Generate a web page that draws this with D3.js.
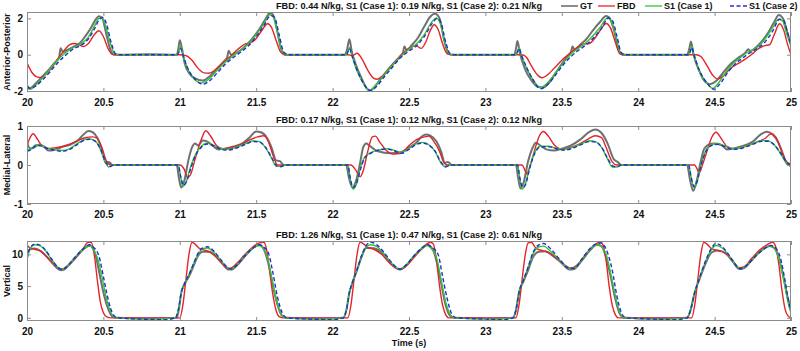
<!DOCTYPE html>
<html>
<head>
<meta charset="utf-8">
<script src="https://cdn.jsdelivr.net/npm/d3@7"></script>
<style>
  body { margin: 0; background: #fff; }
  svg { display: block; font-family: "Liberation Sans", Arial, sans-serif; }
</style>
</head>
<body>
<div id="chart"></div>
<script>
// time ticks shared by the three panels
const xTicks = [20, 20.5, 21, 21.5, 22, 22.5, 23, 23.5, 24, 24.5, 25];

const seriesNames = ['GT', 'FBD', 'S1 (Case 1)', 'S1 (Case 2)'];

const titles = [
  'FBD: 0.44 N/kg, S1 (Case 1): 0.19 N/kg, S1 (Case 2): 0.21 N/kg',
  'FBD: 0.17 N/kg, S1 (Case 1): 0.12 N/kg, S1 (Case 2): 0.12 N/kg',
  'FBD: 1.26 N/kg, S1 (Case 1): 0.47 N/kg, S1 (Case 2): 0.61 N/kg'
];
const yLabels = ['Anterior-Posterior', 'Medial-Lateral', 'Vertical'];
const yTicks = [[-2, 0, 2], [-1, 0, 1], [0, 5, 10]];

// Anterior-Posterior [time, N/kg]
const apGT = [[20.00,-1.70],[20.02,-1.85],[20.06,-1.55],[20.10,-1.20],[20.14,-0.85],[20.18,-0.45],[20.21,-0.15],[20.22,0.35],[20.235,0.15],[20.26,0.25],[20.30,0.42],[20.34,0.60],[20.38,1.00],[20.42,1.50],[20.45,1.95],[20.47,2.12],[20.49,2.05],[20.52,1.10],[20.545,0.30],[20.57,0.00],[20.60,0.00],[20.80,0.02],[20.98,0.00],[20.99,0.30],[21.00,0.80],[21.015,0.30],[21.03,-0.40],[21.06,-1.00],[21.10,-1.30],[21.15,-1.42],[21.20,-1.15],[21.25,-0.70],[21.29,-0.35],[21.31,-0.15],[21.32,0.22],[21.335,0.00],[21.37,0.10],[21.42,0.40],[21.47,0.85],[21.52,1.40],[21.56,1.95],[21.59,2.30],[21.61,2.20],[21.64,1.20],[21.66,0.40],[21.69,0.00],[21.80,0.00],[22.08,0.00],[22.095,0.30],[22.11,0.85],[22.125,0.20],[22.15,-0.50],[22.19,-1.30],[22.23,-1.90],[22.25,-1.95],[22.29,-1.60],[22.34,-1.05],[22.39,-0.55],[22.44,-0.10],[22.46,0.10],[22.47,0.45],[22.485,0.25],[22.52,0.55],[22.56,0.95],[22.60,1.55],[22.64,2.10],[22.67,2.25],[22.70,2.00],[22.73,0.80],[22.76,0.05],[22.79,0.00],[23.00,0.00],[23.19,0.00],[23.20,0.35],[23.21,0.75],[23.225,0.10],[23.26,-0.80],[23.30,-1.40],[23.34,-1.75],[23.38,-1.80],[23.42,-1.50],[23.46,-1.00],[23.50,-0.50],[23.54,-0.05],[23.56,0.15],[23.57,0.45],[23.585,0.25],[23.62,0.55],[23.66,0.85],[23.70,1.30],[23.75,1.80],[23.79,2.13],[23.81,2.05],[23.84,1.40],[23.87,0.30],[23.90,0.00],[24.10,0.00],[24.32,0.00],[24.335,0.35],[24.345,0.73],[24.36,0.10],[24.40,-0.90],[24.44,-1.50],[24.47,-1.62],[24.51,-1.45],[24.55,-1.05],[24.60,-0.55],[24.65,-0.20],[24.70,0.10],[24.72,0.30],[24.735,0.20],[24.77,0.40],[24.81,0.75],[24.85,1.20],[24.89,1.80],[24.92,2.18],[24.95,1.95],[24.98,1.10],[25.00,0.60]];
const apFBD = [[20.00,-0.45],[20.03,-0.95],[20.06,-1.20],[20.09,-1.25],[20.12,-1.10],[20.16,-0.75],[20.20,-0.25],[20.24,0.20],[20.28,0.55],[20.31,0.62],[20.34,0.55],[20.37,0.45],[20.40,0.60],[20.44,1.10],[20.47,1.32],[20.50,1.00],[20.53,0.35],[20.56,0.02],[20.60,0.00],[21.00,0.00],[21.04,-0.05],[21.08,-0.30],[21.12,-0.75],[21.16,-1.00],[21.19,-1.02],[21.23,-0.85],[21.28,-0.45],[21.33,-0.10],[21.38,0.30],[21.43,0.60],[21.46,0.65],[21.49,0.80],[21.53,1.25],[21.575,1.70],[21.60,1.50],[21.63,0.80],[21.66,0.15],[21.69,0.00],[22.10,0.00],[22.13,-0.05],[22.16,0.08],[22.19,-0.20],[22.23,-0.85],[22.27,-1.30],[22.29,-1.35],[22.33,-1.15],[22.38,-0.70],[22.43,-0.20],[22.47,0.15],[22.51,0.40],[22.545,0.50],[22.58,0.35],[22.61,0.70],[22.64,1.35],[22.665,1.65],[22.69,1.40],[22.72,0.60],[22.75,0.05],[22.78,0.00],[23.24,0.00],[23.27,-0.15],[23.30,-0.60],[23.34,-1.10],[23.37,-1.27],[23.40,-1.15],[23.45,-0.75],[23.50,-0.30],[23.55,0.05],[23.60,0.40],[23.64,0.58],[23.68,0.62],[23.72,0.95],[23.76,1.45],[23.79,1.72],[23.82,1.45],[23.85,0.70],[23.88,0.05],[23.91,0.00],[24.38,0.00],[24.41,-0.10],[24.45,-0.60],[24.49,-1.15],[24.52,-1.33],[24.56,-1.15],[24.60,-0.78],[24.64,-0.55],[24.69,-0.30],[24.74,0.00],[24.79,0.35],[24.83,0.50],[24.86,0.55],[24.89,1.10],[24.925,1.70],[24.95,1.40],[24.98,0.50],[25.00,0.00]];
const apS1c1 = [[20.00,-1.80],[20.02,-1.90],[20.06,-1.65],[20.10,-1.30],[20.15,-0.80],[20.20,-0.30],[20.25,0.10],[20.30,0.38],[20.35,0.58],[20.40,0.95],[20.44,1.55],[20.47,2.00],[20.49,2.05],[20.51,1.70],[20.54,0.80],[20.57,0.10],[20.60,0.00],[20.98,0.00],[20.995,0.20],[21.005,0.45],[21.02,0.00],[21.05,-0.75],[21.09,-1.30],[21.14,-1.55],[21.19,-1.35],[21.24,-0.90],[21.30,-0.40],[21.35,-0.05],[21.40,0.25],[21.45,0.60],[21.50,1.10],[21.55,1.70],[21.59,2.20],[21.61,2.10],[21.64,1.20],[21.67,0.20],[21.70,0.00],[22.09,0.00],[22.10,0.20],[22.11,0.40],[22.125,0.00],[22.16,-0.90],[22.20,-1.55],[22.24,-1.97],[22.28,-1.70],[22.33,-1.20],[22.38,-0.70],[22.44,-0.15],[22.50,0.30],[22.55,0.60],[22.60,1.10],[22.645,1.75],[22.68,2.02],[22.705,1.70],[22.735,0.70],[22.765,0.05],[22.80,0.00],[23.20,0.00],[23.21,0.20],[23.22,0.40],[23.235,0.00],[23.27,-0.75],[23.31,-1.35],[23.36,-1.82],[23.40,-1.60],[23.45,-1.10],[23.50,-0.55],[23.55,-0.05],[23.60,0.30],[23.65,0.60],[23.70,1.00],[23.75,1.50],[23.80,2.02],[23.825,1.85],[23.855,1.00],[23.885,0.10],[23.92,0.00],[24.33,0.00],[24.34,0.20],[24.35,0.45],[24.365,0.00],[24.40,-0.90],[24.45,-1.55],[24.49,-1.85],[24.53,-1.50],[24.57,-1.00],[24.62,-0.50],[24.67,-0.15],[24.72,0.15],[24.77,0.35],[24.82,0.75],[24.87,1.35],[24.92,1.95],[24.945,1.85],[24.97,1.20],[25.00,0.45]];
const apS1c2 = [[20.00,-1.75],[20.02,-1.85],[20.06,-1.70],[20.10,-1.40],[20.15,-0.95],[20.20,-0.45],[20.25,-0.05],[20.30,0.30],[20.35,0.50],[20.40,0.85],[20.44,1.40],[20.475,1.95],[20.495,2.05],[20.52,1.70],[20.55,0.70],[20.58,0.05],[20.61,0.00],[20.98,0.00],[20.995,0.15],[21.005,0.35],[21.02,0.00],[21.05,-0.70],[21.10,-1.35],[21.15,-1.62],[21.20,-1.40],[21.25,-0.95],[21.30,-0.50],[21.35,-0.15],[21.40,0.15],[21.45,0.50],[21.50,1.00],[21.55,1.60],[21.595,2.15],[21.62,2.05],[21.65,1.10],[21.68,0.15],[21.71,0.00],[22.09,0.00],[22.10,0.15],[22.11,0.35],[22.125,0.00],[22.16,-0.85],[22.20,-1.55],[22.245,-1.97],[22.29,-1.72],[22.34,-1.20],[22.39,-0.70],[22.44,-0.20],[22.50,0.20],[22.55,0.50],[22.60,1.00],[22.65,1.70],[22.685,2.00],[22.71,1.75],[22.74,0.70],[22.77,0.05],[22.80,0.00],[23.20,0.00],[23.21,0.15],[23.22,0.35],[23.235,0.00],[23.27,-0.70],[23.31,-1.35],[23.36,-1.88],[23.41,-1.62],[23.46,-1.10],[23.51,-0.55],[23.56,-0.10],[23.61,0.25],[23.66,0.55],[23.71,0.95],[23.76,1.45],[23.805,2.02],[23.83,1.90],[23.86,1.05],[23.89,0.10],[23.92,0.00],[24.33,0.00],[24.34,0.15],[24.35,0.40],[24.365,0.00],[24.40,-0.85],[24.45,-1.55],[24.495,-1.90],[24.54,-1.55],[24.58,-1.05],[24.63,-0.55],[24.68,-0.20],[24.73,0.10],[24.78,0.35],[24.83,0.70],[24.88,1.30],[24.925,1.95],[24.95,1.90],[24.975,1.30],[25.00,0.50]];

// Medial-Lateral
const mlGT = [[20.00,0.58],[20.02,0.42],[20.05,0.46],[20.08,0.52],[20.11,0.48],[20.14,0.37],[20.17,0.38],[20.22,0.45],[20.28,0.52],[20.33,0.62],[20.37,0.78],[20.40,0.87],[20.43,0.84],[20.46,0.70],[20.49,0.40],[20.515,0.05],[20.535,0.08],[20.56,0.00],[20.98,0.00],[20.995,-0.35],[21.01,-0.58],[21.03,-0.40],[21.055,0.10],[21.08,0.45],[21.10,0.55],[21.12,0.50],[21.15,0.63],[21.18,0.60],[21.22,0.48],[21.25,0.40],[21.30,0.42],[21.36,0.48],[21.42,0.58],[21.46,0.72],[21.50,0.86],[21.53,0.84],[21.57,0.70],[21.60,0.45],[21.63,0.12],[21.655,0.10],[21.68,0.00],[22.09,0.00],[22.105,-0.30],[22.13,-0.58],[22.15,-0.45],[22.18,0.05],[22.20,0.45],[22.22,0.55],[22.24,0.50],[22.28,0.38],[22.33,0.32],[22.38,0.30],[22.44,0.32],[22.50,0.45],[22.55,0.58],[22.58,0.72],[22.61,0.78],[22.64,0.75],[22.68,0.60],[22.71,0.35],[22.735,0.05],[22.755,0.08],[22.78,0.00],[23.20,0.00],[23.215,-0.35],[23.23,-0.60],[23.25,-0.45],[23.28,0.10],[23.31,0.45],[23.33,0.57],[23.36,0.50],[23.40,0.40],[23.45,0.37],[23.50,0.42],[23.56,0.50],[23.62,0.65],[23.68,0.85],[23.72,0.91],[23.76,0.82],[23.80,0.55],[23.84,0.15],[23.865,0.08],[23.89,0.00],[24.32,0.00],[24.34,-0.40],[24.36,-0.66],[24.38,-0.45],[24.41,0.10],[24.43,0.40],[24.46,0.52],[24.50,0.55],[24.55,0.50],[24.58,0.40],[24.62,0.42],[24.68,0.48],[24.75,0.60],[24.80,0.78],[24.84,0.85],[24.88,0.78],[24.92,0.55],[24.95,0.25],[24.975,0.02],[25.00,0.05]];
const mlFBD = [[20.00,0.50],[20.02,0.70],[20.04,0.80],[20.07,0.65],[20.10,0.48],[20.14,0.42],[20.20,0.45],[20.27,0.52],[20.33,0.62],[20.38,0.70],[20.43,0.72],[20.46,0.68],[20.49,0.45],[20.52,0.10],[20.55,0.00],[21.00,0.00],[21.03,-0.12],[21.05,-0.32],[21.07,-0.25],[21.10,0.15],[21.14,0.65],[21.17,0.88],[21.20,0.75],[21.24,0.50],[21.28,0.42],[21.34,0.45],[21.40,0.52],[21.46,0.65],[21.51,0.72],[21.55,0.75],[21.58,0.60],[21.61,0.25],[21.64,0.00],[22.12,0.00],[22.15,-0.12],[22.18,-0.30],[22.20,-0.15],[22.23,0.35],[22.26,0.72],[22.28,0.74],[22.31,0.58],[22.35,0.38],[22.40,0.28],[22.45,0.30],[22.50,0.50],[22.55,0.65],[22.60,0.72],[22.63,0.74],[22.66,0.62],[22.70,0.35],[22.73,0.05],[22.75,0.00],[23.24,0.00],[23.255,-0.10],[23.27,-0.23],[23.29,-0.05],[23.32,0.35],[23.35,0.72],[23.38,0.86],[23.41,0.75],[23.45,0.52],[23.50,0.40],[23.56,0.45],[23.62,0.55],[23.67,0.66],[23.72,0.75],[23.76,0.70],[23.79,0.45],[23.83,0.08],[23.86,0.00],[24.37,0.00],[24.385,-0.10],[24.40,-0.20],[24.42,0.00],[24.45,0.35],[24.48,0.70],[24.51,0.84],[24.54,0.70],[24.58,0.48],[24.63,0.42],[24.70,0.48],[24.77,0.58],[24.83,0.68],[24.87,0.80],[24.90,0.72],[24.93,0.45],[24.96,0.15],[25.00,0.00]];
const mlS1c1 = [[20.00,0.38],[20.03,0.42],[20.06,0.52],[20.09,0.50],[20.13,0.44],[20.18,0.40],[20.23,0.37],[20.28,0.42],[20.33,0.55],[20.38,0.66],[20.41,0.67],[20.45,0.60],[20.48,0.40],[20.51,0.10],[20.535,-0.05],[20.56,0.00],[20.99,0.00],[21.005,-0.30],[21.02,-0.55],[21.04,-0.45],[21.07,-0.05],[21.10,0.25],[21.14,0.48],[21.18,0.56],[21.22,0.50],[21.26,0.43],[21.31,0.40],[21.37,0.45],[21.43,0.55],[21.48,0.62],[21.52,0.60],[21.56,0.45],[21.60,0.18],[21.63,-0.03],[21.66,-0.04],[21.69,0.00],[22.10,0.00],[22.115,-0.35],[22.135,-0.62],[22.155,-0.50],[22.18,-0.10],[22.21,0.20],[22.25,0.32],[22.30,0.38],[22.35,0.42],[22.40,0.38],[22.45,0.32],[22.50,0.42],[22.55,0.55],[22.59,0.58],[22.63,0.52],[22.67,0.35],[22.71,0.05],[22.74,-0.05],[22.77,0.00],[23.21,0.00],[23.225,-0.35],[23.24,-0.62],[23.26,-0.50],[23.29,-0.05],[23.32,0.30],[23.36,0.48],[23.41,0.48],[23.47,0.42],[23.52,0.40],[23.57,0.45],[23.63,0.55],[23.68,0.62],[23.72,0.60],[23.76,0.45],[23.80,0.15],[23.83,-0.05],[23.86,-0.05],[23.89,0.00],[24.33,0.00],[24.345,-0.30],[24.365,-0.58],[24.385,-0.45],[24.41,0.00],[24.44,0.35],[24.48,0.52],[24.52,0.55],[24.57,0.48],[24.62,0.42],[24.68,0.45],[24.75,0.55],[24.81,0.63],[24.85,0.62],[24.89,0.52],[24.93,0.30],[24.97,0.05],[25.00,-0.05]];
const mlS1c2 = [[20.00,0.35],[20.03,0.40],[20.06,0.50],[20.09,0.49],[20.13,0.43],[20.18,0.38],[20.23,0.35],[20.28,0.40],[20.33,0.53],[20.38,0.64],[20.41,0.66],[20.45,0.60],[20.48,0.42],[20.51,0.12],[20.54,-0.04],[20.57,0.00],[20.99,0.00],[21.005,-0.28],[21.025,-0.52],[21.045,-0.42],[21.075,-0.05],[21.10,0.22],[21.14,0.45],[21.18,0.54],[21.22,0.50],[21.26,0.42],[21.31,0.38],[21.37,0.43],[21.43,0.53],[21.48,0.60],[21.52,0.59],[21.56,0.46],[21.60,0.20],[21.635,-0.02],[21.66,-0.04],[21.69,0.00],[22.10,0.00],[22.115,-0.32],[22.135,-0.58],[22.155,-0.48],[22.185,-0.08],[22.21,0.18],[22.25,0.30],[22.30,0.38],[22.35,0.41],[22.40,0.37],[22.45,0.30],[22.50,0.40],[22.55,0.53],[22.59,0.56],[22.63,0.51],[22.67,0.36],[22.71,0.07],[22.74,-0.04],[22.77,0.00],[23.21,0.00],[23.225,-0.32],[23.245,-0.58],[23.265,-0.48],[23.29,-0.08],[23.32,0.27],[23.36,0.46],[23.41,0.47],[23.47,0.41],[23.52,0.38],[23.57,0.43],[23.63,0.53],[23.68,0.60],[23.72,0.59],[23.76,0.46],[23.80,0.17],[23.835,-0.03],[23.86,-0.05],[23.89,0.00],[24.33,0.00],[24.345,-0.28],[24.365,-0.55],[24.385,-0.43],[24.41,-0.02],[24.44,0.32],[24.48,0.50],[24.52,0.53],[24.57,0.47],[24.62,0.40],[24.68,0.43],[24.75,0.53],[24.81,0.61],[24.85,0.61],[24.89,0.52],[24.93,0.32],[24.97,0.08],[25.00,-0.03]];

// Vertical
const vtGT = [[20.00,10.0],[20.02,10.8],[20.05,10.9],[20.09,10.5],[20.13,9.6],[20.17,8.5],[20.21,7.6],[20.23,7.5],[20.27,8.2],[20.32,9.5],[20.37,10.8],[20.41,11.4],[20.43,11.0],[20.45,9.8],[20.47,7.5],[20.50,4.0],[20.53,1.5],[20.56,0.2],[20.59,0.0],[20.80,-0.1],[20.98,0.0],[20.995,1.5],[21.01,4.0],[21.03,5.3],[21.06,6.5],[21.09,8.2],[21.12,9.8],[21.15,10.4],[21.19,10.4],[21.23,9.8],[21.28,8.5],[21.32,7.6],[21.34,7.6],[21.38,8.4],[21.43,9.8],[21.48,11.0],[21.52,11.5],[21.55,10.8],[21.58,8.5],[21.61,5.0],[21.64,2.0],[21.67,0.3],[21.70,0.0],[21.90,-0.1],[22.07,0.0],[22.09,1.2],[22.11,4.0],[22.13,5.5],[22.16,7.5],[22.19,9.6],[22.22,11.0],[22.25,11.0],[22.29,10.8],[22.34,9.8],[22.39,8.3],[22.44,7.6],[22.48,8.2],[22.53,9.6],[22.58,10.8],[22.62,11.5],[22.65,11.0],[22.68,9.0],[22.71,5.5],[22.74,2.0],[22.77,0.3],[22.80,0.0],[23.05,-0.1],[23.18,0.0],[23.20,1.2],[23.22,4.0],[23.25,5.8],[23.28,7.5],[23.31,9.5],[23.35,10.4],[23.39,10.5],[23.44,9.8],[23.50,8.6],[23.55,7.6],[23.58,7.7],[23.63,9.0],[23.68,10.5],[23.73,11.5],[23.76,11.3],[23.79,9.5],[23.82,6.5],[23.85,3.0],[23.88,0.6],[23.91,0.0],[24.15,-0.1],[24.32,0.0],[24.34,1.0],[24.37,4.0],[24.40,6.0],[24.44,8.5],[24.48,10.3],[24.52,10.6],[24.57,10.2],[24.62,8.8],[24.66,7.7],[24.69,7.8],[24.74,9.0],[24.80,10.5],[24.86,11.3],[24.89,11.0],[24.92,9.5],[24.95,6.5],[24.98,3.0],[25.00,1.5]];
const vtFBD = [[20.00,11.5],[20.02,11.0],[20.05,10.8],[20.09,10.5],[20.13,9.6],[20.17,8.6],[20.21,7.8],[20.23,7.7],[20.27,8.3],[20.32,9.6],[20.37,11.0],[20.40,11.9],[20.42,11.9],[20.44,10.0],[20.46,6.0],[20.48,2.5],[20.50,0.8],[20.52,0.2],[20.55,0.0],[21.00,0.0],[21.02,2.0],[21.04,6.0],[21.06,10.0],[21.08,11.9],[21.10,11.6],[21.13,10.9],[21.17,10.6],[21.21,10.2],[21.26,9.0],[21.30,8.0],[21.33,7.8],[21.37,8.5],[21.42,9.8],[21.47,11.0],[21.52,11.8],[21.55,11.9],[21.57,10.5],[21.59,7.0],[21.61,3.5],[21.63,1.2],[21.65,0.2],[21.68,0.0],[22.10,0.0],[22.12,2.0],[22.14,6.0],[22.16,10.0],[22.18,11.9],[22.20,11.7],[22.23,11.1],[22.27,10.8],[22.32,10.0],[22.37,8.7],[22.42,7.8],[22.45,7.7],[22.50,8.6],[22.55,10.0],[22.60,11.3],[22.64,11.9],[22.66,11.6],[22.68,9.0],[22.70,5.0],[22.72,2.0],[22.74,0.5],[22.76,0.0],[23.20,0.0],[23.22,2.0],[23.24,6.0],[23.26,9.8],[23.28,11.8],[23.30,11.9],[23.33,11.0],[23.37,10.6],[23.42,10.2],[23.47,9.3],[23.52,8.3],[23.56,7.8],[23.60,8.3],[23.65,9.8],[23.70,11.2],[23.75,11.9],[23.77,11.5],[23.79,9.0],[23.81,5.0],[23.83,2.0],[23.85,0.5],[23.87,0.0],[24.35,0.0],[24.37,2.0],[24.39,6.0],[24.41,10.0],[24.43,11.9],[24.45,11.6],[24.48,10.9],[24.52,10.6],[24.57,10.2],[24.62,9.0],[24.66,7.9],[24.69,8.0],[24.74,9.3],[24.80,10.8],[24.85,11.6],[24.88,11.9],[24.90,11.2],[24.92,8.5],[24.94,4.5],[24.96,1.5],[24.98,0.3],[25.00,0.0]];
const vtS1c1 = [[20.00,9.3],[20.02,10.8],[20.05,11.5],[20.08,11.4],[20.12,10.6],[20.16,9.2],[20.20,8.0],[20.23,7.6],[20.27,8.3],[20.32,9.7],[20.37,10.9],[20.41,11.4],[20.44,10.5],[20.46,9.5],[20.49,6.5],[20.52,3.0],[20.55,0.8],[20.58,0.0],[20.80,-0.2],[20.97,0.0],[20.99,1.2],[21.01,4.0],[21.03,5.3],[21.06,6.8],[21.09,8.5],[21.12,10.0],[21.15,10.9],[21.18,11.0],[21.22,10.4],[21.27,9.0],[21.32,7.8],[21.34,7.7],[21.38,8.5],[21.43,9.9],[21.48,11.0],[21.52,11.4],[21.55,10.8],[21.57,9.8],[21.60,6.5],[21.63,3.0],[21.66,0.8],[21.69,0.0],[21.90,-0.2],[22.07,0.0],[22.09,1.2],[22.11,4.0],[22.13,5.6],[22.16,7.6],[22.19,9.8],[22.22,11.2],[22.25,11.5],[22.29,11.2],[22.34,10.0],[22.39,8.5],[22.44,7.7],[22.48,8.3],[22.53,9.7],[22.58,10.9],[22.62,11.4],[22.65,10.8],[22.68,9.5],[22.71,6.0],[22.74,2.5],[22.77,0.5],[22.80,0.0],[23.05,-0.2],[23.18,0.0],[23.20,1.2],[23.22,4.0],[23.25,6.0],[23.28,8.0],[23.31,10.0],[23.35,11.2],[23.38,11.3],[23.43,10.4],[23.49,9.0],[23.55,7.8],[23.58,7.8],[23.63,9.2],[23.68,10.7],[23.73,11.5],[23.76,11.2],[23.79,10.0],[23.82,7.0],[23.85,3.5],[23.88,0.8],[23.91,0.0],[24.15,-0.2],[24.32,0.0],[24.34,1.0],[24.37,4.0],[24.40,6.2],[24.44,8.8],[24.48,10.8],[24.51,11.4],[24.55,11.0],[24.60,9.6],[24.65,8.0],[24.67,7.7],[24.72,8.5],[24.78,10.0],[24.84,11.1],[24.87,11.3],[24.90,10.6],[24.93,8.5],[24.96,5.0],[24.99,1.5],[25.00,0.8]];
const vtS1c2 = [[20.00,9.3],[20.02,11.0],[20.05,11.6],[20.08,11.5],[20.12,10.7],[20.16,9.3],[20.20,8.0],[20.23,7.6],[20.27,8.3],[20.32,9.7],[20.37,10.9],[20.41,11.5],[20.44,11.0],[20.47,9.8],[20.50,6.5],[20.53,3.0],[20.56,0.7],[20.59,0.0],[20.75,-0.2],[20.90,-0.3],[20.97,0.0],[20.99,1.2],[21.01,4.0],[21.03,5.3],[21.06,6.8],[21.09,8.5],[21.12,10.2],[21.15,11.0],[21.18,11.2],[21.22,10.6],[21.27,9.1],[21.32,7.8],[21.34,7.7],[21.38,8.5],[21.43,9.9],[21.48,11.0],[21.52,11.5],[21.55,11.1],[21.58,10.2],[21.61,7.0],[21.64,3.2],[21.67,0.8],[21.70,0.0],[21.85,-0.2],[22.00,-0.3],[22.07,0.0],[22.09,1.2],[22.11,4.0],[22.13,5.6],[22.16,7.6],[22.19,9.8],[22.22,11.4],[22.25,11.9],[22.29,11.5],[22.34,10.2],[22.39,8.6],[22.44,7.7],[22.48,8.3],[22.53,9.7],[22.58,10.9],[22.62,11.5],[22.65,11.1],[22.69,10.0],[22.72,6.5],[22.75,3.0],[22.78,0.6],[22.81,0.0],[23.00,-0.2],[23.12,-0.3],[23.18,0.0],[23.20,1.2],[23.22,4.0],[23.25,6.0],[23.28,8.0],[23.31,10.2],[23.35,11.5],[23.38,11.7],[23.43,10.8],[23.49,9.1],[23.55,7.8],[23.58,7.8],[23.63,9.2],[23.68,10.8],[23.73,11.7],[23.76,11.8],[23.79,10.8],[23.83,7.5],[23.86,3.5],[23.89,0.8],[23.92,0.0],[24.10,-0.2],[24.25,-0.3],[24.32,0.0],[24.34,1.0],[24.37,4.0],[24.40,6.2],[24.44,8.9],[24.48,11.0],[24.51,11.7],[24.55,11.2],[24.60,9.7],[24.65,8.0],[24.67,7.7],[24.72,8.5],[24.78,10.0],[24.84,11.1],[24.87,11.4],[24.90,11.0],[24.93,9.5],[24.96,6.0],[24.99,2.0],[25.00,1.2]];

const panelSeries = [
  [apGT, apFBD, apS1c1, apS1c2],
  [mlGT, mlFBD, mlS1c1, mlS1c2],
  [vtGT, vtFBD, vtS1c1, vtS1c2]
];

// ---- layout / style ----
const width = 800, height = 351;
const left = 27, right = 791;
const panels = [
  { top: 12, bottom: 92, domain: [-2.05, 2.35] },
  { top: 126, bottom: 204, domain: [-1, 1] },
  { top: 241, bottom: 321, domain: [-0.5, 12.1] }
];
const styles = [
  { color: '#707070', width: 2, dash: null },
  { color: '#e3242b', width: 1.4, dash: null },
  { color: '#33c433', width: 1.4, dash: null },
  { color: '#1f2fd6', width: 1.4, dash: '4,2.5' }
];
const axisColor = '#8c8c8c';
const fmt = d => String(d); // plain hyphen minus, no trailing zeros

const svg = d3.select('#chart').append('svg')
  .attr('width', width)
  .attr('height', height);

const x = d3.scaleLinear().domain([20, 25]).range([left, right]);

panels.forEach((p, pi) => {
  const y = d3.scaleLinear().domain(p.domain).range([p.bottom, p.top]);
  const g = svg.append('g');

  g.append('clipPath').attr('id', `clip-${pi}`)
    .append('rect')
    .attr('x', left).attr('y', p.top)
    .attr('width', right - left).attr('height', p.bottom - p.top);

  const line = d3.line()
    .x(d => x(d[0]))
    .y(d => y(d[1]))
    .curve(d3.curveMonotoneX);

  panelSeries[pi].forEach((data, si) => {
    const s = styles[si];
    g.append('path')
      .datum(data)
      .attr('clip-path', `url(#clip-${pi})`)
      .attr('fill', 'none')
      .attr('stroke', s.color)
      .attr('stroke-width', s.width)
      .attr('stroke-linejoin', 'round')
      .attr('stroke-dasharray', s.dash)
      .attr('d', line);
  });

  // box
  g.append('rect')
    .attr('x', left + 0.5).attr('y', p.top + 0.5)
    .attr('width', right - left - 1).attr('height', p.bottom - p.top - 1)
    .attr('fill', 'none')
    .attr('stroke', axisColor)
    .attr('stroke-width', 1);

  // ticks point inwards on all four sides
  const xAxisB = g.append('g')
    .attr('transform', `translate(0,${p.bottom})`)
    .call(d3.axisBottom(x).tickValues(xTicks).tickSize(-4).tickPadding(7).tickFormat(fmt));
  const xAxisT = g.append('g')
    .attr('transform', `translate(0,${p.top})`)
    .call(d3.axisTop(x).tickValues(xTicks).tickSize(-4).tickFormat(''));

  const yAxisL = g.append('g')
    .attr('transform', `translate(${left},0)`)
    .call(d3.axisLeft(y).tickValues(yTicks[pi]).tickSize(-4).tickPadding(4).tickFormat(fmt));
  const yAxisR = g.append('g')
    .attr('transform', `translate(${right},0)`)
    .call(d3.axisRight(y).tickValues(yTicks[pi]).tickSize(-4).tickFormat(''));

  [xAxisB, xAxisT, yAxisL, yAxisR].forEach(a => {
    a.select('.domain').remove();
    a.selectAll('line').attr('stroke', axisColor);
    a.selectAll('text')
      .attr('fill', '#111')
      .attr('font-size', '10px')
      .attr('font-weight', 'bold');
  });

  // title
  g.append('text')
    .attr('x', (left + right) / 2)
    .attr('y', p.top - 3.5)
    .attr('text-anchor', 'middle')
    .attr('font-size', '9.2px')
    .attr('font-weight', 'bold')
    .attr('fill', '#111')
    .text(titles[pi]);

  // y label
  g.append('text')
    .attr('transform', `translate(10,${(p.top + p.bottom) / 2}) rotate(-90)`)
    .attr('text-anchor', 'middle')
    .attr('font-size', '9px')
    .attr('font-weight', 'bold')
    .attr('fill', '#111')
    .text(yLabels[pi]);
});

// x label
svg.append('text')
  .attr('x', (left + right) / 2)
  .attr('y', 346)
  .attr('text-anchor', 'middle')
  .attr('font-size', '9px')
  .attr('font-weight', 'bold')
  .attr('fill', '#111')
  .text('Time (s)');

// legend, top right
const legendX = [561, 598, 645, 730];
const legend = svg.append('g').attr('transform', 'translate(0,6)');
seriesNames.forEach((name, i) => {
  const s = styles[i];
  legend.append('line')
    .attr('x1', legendX[i]).attr('x2', legendX[i] + 17)
    .attr('y1', 0).attr('y2', 0)
    .attr('stroke', s.color)
    .attr('stroke-width', s.width > 1.5 ? 1.6 : 1.3)
    .attr('stroke-dasharray', s.dash ? '4,2.5' : null);
  legend.append('text')
    .attr('x', legendX[i] + 19)
    .attr('y', 3)
    .attr('font-size', '9px')
    .attr('font-weight', 'bold')
    .attr('fill', '#111')
    .text(name);
});
</script>
</body>
</html>
